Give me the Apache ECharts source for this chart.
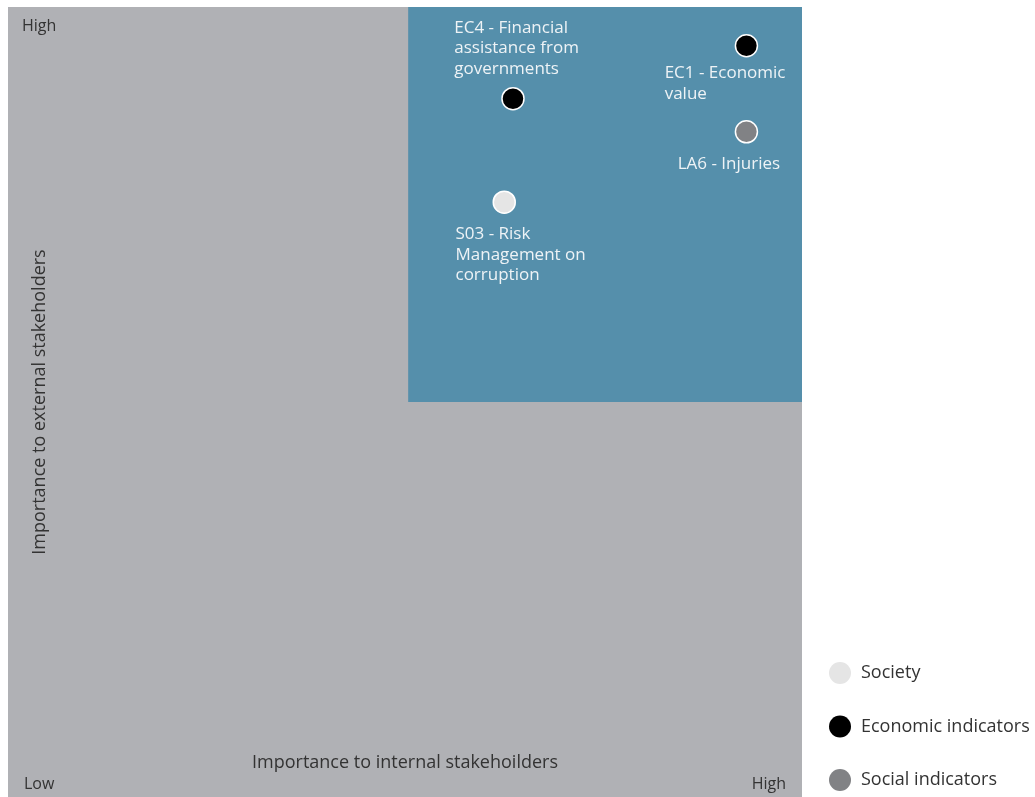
<!DOCTYPE html>
<html>
<head>
<meta charset="utf-8">
<script src="https://cdn.jsdelivr.net/npm/echarts@6/dist/echarts.min.js"></script>
<style>html,body{margin:0;padding:0;background:#fff}#c{width:1035px;height:797px}</style>
</head>
<body>
<div id="c"></div>
<script>
// ---- data ----
const seriesNames = ['Society', 'Economic indicators', 'Social indicators'];
const societyNames = ['S03 - Risk\nManagement on\ncorruption'];
const societyX = [6.25];
const societyY = [7.53];
const economicNames = ['EC4 - Financial\nassistance from\ngovernments', 'EC1 - Economic\nvalue'];
const economicX = [6.36, 9.3];
const economicY = [8.84, 9.51];
const socialNames = ['LA6 - Injuries'];
const socialX = [9.3];
const socialY = [8.42];
const xTickLabels = { 0: 'Low', 10: 'High' };
const yTickLabels = { 10: 'High' };
const xAxisName = 'Importance to internal stakehoilders';
const yAxisName = 'Importance to external stakeholders';
const priorityArea = [[5.04, 5], [10, 10]];

// ---- layout / style ----
const colors = ['#e5e5e5', '#000000', '#818285'];
const labelOffsets = {
  'S03 - Risk\nManagement on\ncorruption': [-37, 34],
  'EC4 - Financial\nassistance from\ngovernments': [-47, -69],
  'EC1 - Economic\nvalue': [-70, 29],
  'LA6 - Injuries': [-57, 34]
};
const FONT = '"Open Sans", sans-serif';

function build(names, xs, ys) {
  return names.map((n, i) => ({
    value: [xs[i], ys[i]],
    name: n,
    label: {
      show: true,
      formatter: n,
      position: labelOffsets[n],
      align: 'left',
      verticalAlign: 'top',
      color: '#eef3f6',
      fontSize: 17,
      lineHeight: 20.5,
      fontFamily: FONT
    }
  }));
}

const chart = echarts.init(document.getElementById('c'));
const commonSeries = {
  type: 'scatter',
  symbol: 'circle',
  symbolSize: 22,
  itemStyle: { borderColor: '#ffffff', borderWidth: 1.5, opacity: 1 },
  emphasis: { disabled: true },
  z: 5
};
chart.setOption({
  animation: false,
  color: colors,
  grid: {
    left: 8, top: 7, width: 794, bottom: 0,
    containLabel: false, outerBoundsMode: 'none',
    show: true, backgroundColor: '#b0b1b5', borderWidth: 0
  },
  xAxis: {
    type: 'value', min: 0, max: 10, interval: 10,
    splitLine: { show: false }, axisLine: { show: false }, axisTick: { show: false },
    axisLabel: {
      inside: true, margin: 5,
      formatter: v => xTickLabels[v] || '',
      alignMinLabel: 'left', alignMaxLabel: 'right',
      padding: [0, 16, 0, 16],
      color: '#333', fontSize: 16, fontFamily: FONT
    },
    name: xAxisName, nameLocation: 'middle', nameGap: -34, nameMoveOverlap: false,
    nameTextStyle: { color: '#333', fontSize: 18, fontFamily: FONT, verticalAlign: 'middle' }
  },
  yAxis: {
    type: 'value', min: 0, max: 10, interval: 10,
    splitLine: { show: false }, axisLine: { show: false }, axisTick: { show: false },
    axisLabel: {
      inside: true, margin: 14,
      formatter: v => yTickLabels[v] || '',
      verticalAlign: 'top',
      padding: [11, 0, 0, 0],
      color: '#333', fontSize: 16, fontFamily: FONT
    },
    name: yAxisName, nameLocation: 'middle', nameGap: -32, nameRotate: 90, nameMoveOverlap: false,
    nameTextStyle: { color: '#333', fontSize: 18, fontFamily: FONT, verticalAlign: 'middle', align: 'center' }
  },
  legend: {
    orient: 'vertical', left: 829, top: 662, padding: 0,
    itemWidth: 22, itemHeight: 22, itemGap: 31.5,
    icon: 'circle',
    itemStyle: { borderWidth: 0 },
    textStyle: { color: '#333', fontSize: 18, fontFamily: FONT, padding: [0, 0, 0, 5] },
    data: seriesNames
  },
  series: [
    Object.assign({}, commonSeries, {
      name: seriesNames[0],
      data: build(societyNames, societyX, societyY),
      markArea: {
        silent: true,
        itemStyle: { color: '#558fab', opacity: 1 },
        data: [[{ coord: priorityArea[0] }, { coord: priorityArea[1] }]]
      }
    }),
    Object.assign({}, commonSeries, {
      name: seriesNames[1],
      data: build(economicNames, economicX, economicY)
    }),
    Object.assign({}, commonSeries, {
      name: seriesNames[2],
      data: build(socialNames, socialX, socialY)
    })
  ]
});
</script>
</body>
</html>
